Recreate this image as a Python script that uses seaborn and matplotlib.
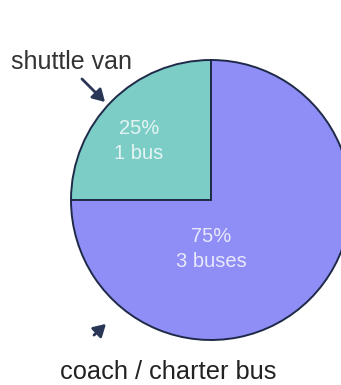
import matplotlib
matplotlib.use("Agg")
import matplotlib.pyplot as plt
import seaborn as sns

categories = ["shuttle van", "coach / charter bus"]
values = [25, 75]
counts = ["1 bus", "3 buses"]
colors = ["#7ccdc6", "#8f8ef6"]

sns.set_theme(style="white")
plt.rcParams["font.family"] = ["Liberation Sans", "DejaVu Sans"]

fig = plt.figure(figsize=(3.41, 3.85), dpi=100)
fig.patch.set_facecolor("white")
ax = fig.add_axes([0, 0, 1, 1])

H = 385
cx, cy, r = 211, H - 200, 140
wedges, _ = ax.pie(values, colors=colors, startangle=90, counterclock=True,
                   center=(cx, cy), radius=r,
                   wedgeprops=dict(edgecolor="#1f2a48", linewidth=1.4))
ax.set_xlim(0, 341)
ax.set_ylim(0, H)
ax.set_aspect("equal")
ax.axis("off")

txt_kw = dict(color="white", alpha=0.8, fontsize=14.5, ha="center", va="center",
              linespacing=1.45)
ax.text(139, H - 141, f"{values[0]}%\n{counts[0]}", **txt_kw)
ax.text(211, H - 249, f"{values[1]}%\n{counts[1]}", **txt_kw)

ax.text(71.5, H - 62, categories[0], fontsize=18, color="#333333",
        ha="center", va="center")
ax.text(168.5, H - 372, categories[1], fontsize=18.3, color="#222222",
        ha="center", va="center")

arrow_kw = dict(arrowstyle="-|>,head_length=0.6,head_width=0.35",
                color="#2a3656", lw=2)
ax.annotate("", xy=(107, H - 104), xytext=(80, H - 77), arrowprops=arrow_kw)
ax.annotate("", xy=(108, H - 322), xytext=(92, H - 337), arrowprops=arrow_kw)

fig.savefig("out.png", dpi=100)
